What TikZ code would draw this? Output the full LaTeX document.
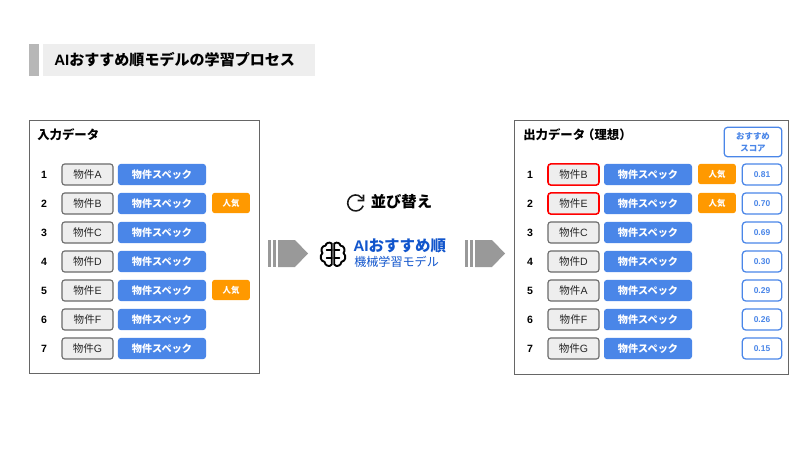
\documentclass[tikz,border=0pt]{standalone}
\usepackage{fontspec}
\setmainfont{Noto Sans CJK JP}
\newfontfamily\latinfont{Liberation Sans}
\usepackage{xcolor}
\usetikzlibrary{calc}
\definecolor{specblue}{HTML}{4A86E8}
\definecolor{poporange}{HTML}{FF9900}
\definecolor{titleblue}{HTML}{1155CC}
\definecolor{barlight}{HTML}{EEEEEE}
\definecolor{bardark}{HTML}{B7B7B7}
\definecolor{arrowgray}{HTML}{999999}
\definecolor{framegray}{HTML}{666666}
\tikzset{
  frame/.style={draw=framegray, line width=0.6pt, fill=white},
  namebox/.style={draw=arrowgray!70!black, line width=0.8pt, rounded corners=2pt, fill=barlight, minimum width=36.3pt, minimum height=15pt, inner sep=0pt, font=\fontsize{7.5pt}{9pt}\selectfont, text=black!85},
  redbox/.style={namebox, draw=red, line width=1.1pt},
  specbox/.style={fill=specblue, rounded corners=2pt, minimum width=62.6pt, minimum height=15pt, inner sep=0pt, text=white, font=\fontsize{7.2pt}{9pt}\bfseries\selectfont},
  popbox/.style={fill=poporange, rounded corners=2pt, minimum width=27pt, minimum height=14.5pt, inner sep=0pt, text=white, font=\fontsize{6pt}{7pt}\bfseries\selectfont},
  scorebox/.style={draw=specblue, fill=white, line width=0.9pt, rounded corners=2.5pt, minimum width=28pt, minimum height=15pt, inner sep=0pt, text=specblue, font=\latinfont\fontsize{6pt}{7pt}\bfseries\selectfont},
  rank/.style={inner sep=0pt, font=\latinfont\fontsize{7.5pt}{9pt}\bfseries\selectfont, text=black},
  heading/.style={anchor=west, inner sep=0pt, font=\fontsize{8.8pt}{10pt}\bfseries\selectfont}
}
% one row: x of the rank, y, rank, label, node prefix
\newcommand{\itemrow}[6][namebox]{%
  \node[rank] (#6rank#4) at (#2,#3) {#4};
  \node[#1] (#6name#4) at (#2+43.5,#3) {物件{\latinfont #5}};
  \node[specbox] (#6spec#4) at (#2+118,#3) {物件スペック};
}
\newcommand{\flowarrow}[1]{%
  \begin{scope}[shift={(#1,0)}]
    \fill[arrowgray] (0,240) rectangle (3,267);
    \fill[arrowgray] (5,240) rectangle (8,267);
    \fill[arrowgray] (10,240) -- (27,240) -- (40,253.5) -- (27,267) -- (10,267) -- cycle;
  \end{scope}
}
\begin{document}
\begin{tikzpicture}[x=0.25mm, y=-0.25mm]
        \useasboundingbox (0,0) rectangle (800,450);

        % Title
        \fill[bardark] (29,44) rectangle (39,76);
        \fill[barlight] (43,44) rectangle (315,76);
        \node[anchor=west, inner sep=0pt, font=\fontsize{10.7pt}{13pt}\bfseries\selectfont] (title) at (54,60) {{\latinfont AI}おすすめ順モデルの学習プロセス};

        % Input data
        \draw[frame] (29,120) rectangle (259,373);
        \node[heading] (inhead) at (37,135) {入力データ};
        \itemrow{44}{174.5}{1}{A}{in}
        \itemrow{44}{203.5}{2}{B}{in}
        \itemrow{44}{232.5}{3}{C}{in}
        \itemrow{44}{261.5}{4}{D}{in}
        \itemrow{44}{290.5}{5}{E}{in}
        \itemrow{44}{319.5}{6}{F}{in}
        \itemrow{44}{348.5}{7}{G}{in}
        \node[popbox] (inpop2) at (231,203) {人気};
        \node[popbox] (inpop5) at (231,290) {人気};

        % Model
        \flowarrow{268}
        \flowarrow{465}
        \draw[line width=1.1pt, black!90] (363.2,205.7) arc (20:325:8) (363.5,194.5) -- (363.5,200.5) -- (357.5,200.5);
        \node[anchor=west, inner sep=0pt, font=\fontsize{10.9pt}{12pt}\bfseries\selectfont] (sorthead) at (370.5,202) {並び替え};
        % brain
        \begin{scope}[shift={(333,254)}, scale=1.05, line width=1.35pt, black, line cap=round, line join=round]
          \draw (-1.2,-10) .. controls (-4,-12) and (-7,-10) .. (-7,-8) .. controls (-11,-8) and (-12,-3) .. (-10,-1) .. controls (-13,2) and (-12,7) .. (-8,7.5) .. controls (-8,11) and (-3,13) .. (-1.2,10) -- cycle;
          \draw (1.2,-10) .. controls (4,-12) and (7,-10) .. (7,-8) .. controls (11,-8) and (12,-3) .. (10,-1) .. controls (13,2) and (12,7) .. (8,7.5) .. controls (8,11) and (3,13) .. (1.2,10) -- cycle;
          \draw (-1.2,-3.5) -- (-6,-3.5) (-1.2,3.5) -- (-6,3.5) (1.2,-3.5) -- (6,-3.5) (1.2,3.5) -- (6,3.5);
        \end{scope}
        \node[anchor=west, inner sep=0pt, text=titleblue, font=\fontsize{11pt}{13pt}\bfseries\selectfont] (modelname) at (353,246) {{\latinfont AI}おすすめ順};
        \node[anchor=west, inner sep=0pt, text=titleblue, font=\fontsize{8.6pt}{10pt}\selectfont] (modelsub) at (354,262) {機械学習モデル};

        % Output data
        \draw[frame] (514,120) rectangle (788,374);
        \node[heading] (outhead) at (523,135) {出力データ\kern-2.1pt（理想）};
        \node[scorebox, minimum width=41pt, minimum height=21pt, align=center, font=\fontsize{6pt}{8.5pt}\bfseries\selectfont] (scorehead) at (753,142) {おすすめ\\スコア};
        \itemrow[redbox]{530}{174.5}{1}{B}{out}
        \itemrow[redbox]{530}{203.5}{2}{E}{out}
        \itemrow{530}{232.5}{3}{C}{out}
        \itemrow{530}{261.5}{4}{D}{out}
        \itemrow{530}{290.5}{5}{A}{out}
        \itemrow{530}{319.5}{6}{F}{out}
        \itemrow{530}{348.5}{7}{G}{out}
        \node[popbox] (outpop1) at (717,174) {人気};
        \node[popbox] (outpop2) at (717,203) {人気};
        \node[scorebox] (score1) at (762,174.5) {0.81};
        \node[scorebox] (score2) at (762,203.5) {0.70};
        \node[scorebox] (score3) at (762,232.5) {0.69};
        \node[scorebox] (score4) at (762,261.5) {0.30};
        \node[scorebox] (score5) at (762,290.5) {0.29};
        \node[scorebox] (score6) at (762,319.5) {0.26};
        \node[scorebox] (score7) at (762,348.5) {0.15};
    \end{tikzpicture}
\end{document}
